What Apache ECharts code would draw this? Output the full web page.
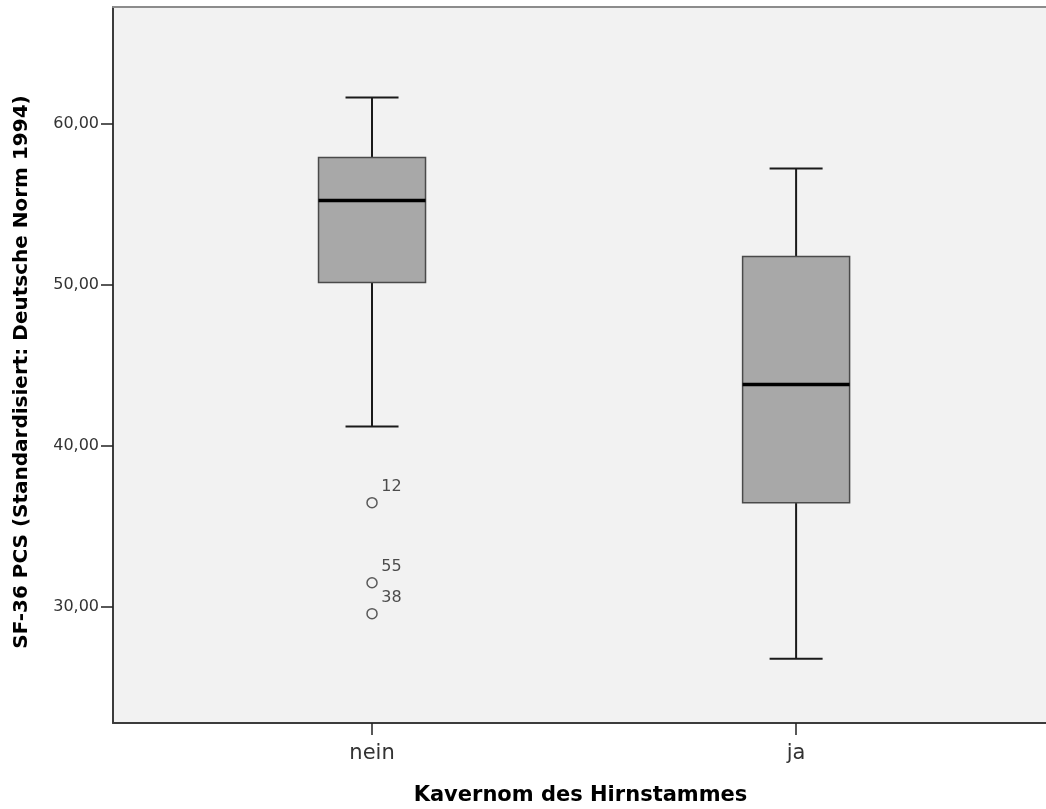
<!DOCTYPE html>
<html>
<head>
<meta charset="utf-8">
<script src="https://cdn.jsdelivr.net/npm/echarts@6/dist/echarts.min.js"></script>
<style>html,body{margin:0;padding:0;background:#fff;}#c{width:1046px;height:809px;}</style>
</head>
<body>
<div id="c"></div>
<script>
// Data
const categories = ['nein', 'ja'];
const whiskerLow = [41.18, 26.77];
const q1 = [50.12, 36.46];
const median = [55.22, 43.79];
const q3 = [57.89, 51.74];
const whiskerHigh = [61.61, 57.20];
const outlierCategory = [0, 0, 0];
const outlierValues = [36.46, 31.49, 29.57];
const outlierIds = ['12', '55', '38'];
const yTicks = [30, 40, 50, 60];

const boxData = categories.map((c, i) => [i, whiskerLow[i], q1[i], median[i], q3[i], whiskerHigh[i]]);
const outlierData = outlierValues.map((v, i) => [outlierCategory[i], v, outlierIds[i]]);

const FONT = 'DejaVu Sans';
const xMin = -0.6108, xMax = 1.594;

const chart = echarts.init(document.getElementById('c'), null, {renderer: 'canvas'});
chart.setOption({
  animation: false,
  backgroundColor: '#ffffff',
  grid: {left: 113, right: -2, top: 7, bottom: 86, show: true, backgroundColor: '#f2f2f2', borderWidth: 0,
    outerBoundsMode: 'none', containLabel: false},
  xAxis: [{
    type: 'value', min: xMin, max: xMax, position: 'bottom',
    name: 'Kavernom des Hirnstammes', nameLocation: 'middle', nameGap: 62,
    nameTextStyle: {fontFamily: FONT, fontSize: 21, fontWeight: 'bold', color: '#000', verticalAlign: 'top'},
    axisLine: {show: true, onZero: false, lineStyle: {color: '#3c3c3c', width: 2}},
    axisTick: {show: true, length: 12, customValues: [0, 1], lineStyle: {color: '#222', width: 1.5}},
    axisLabel: {show: true, customValues: [0, 1], margin: 20, fontFamily: FONT, fontSize: 21, color: '#333',
      formatter: v => categories[Math.round(v)] || ''},
    splitLine: {show: false}
  }, {
    type: 'value', min: xMin, max: xMax, position: 'top',
    axisLine: {show: true, onZero: false, lineStyle: {color: '#8c8c8c', width: 2}},
    axisTick: {show: false}, axisLabel: {show: false}, splitLine: {show: false}
  }],
  yAxis: {
    type: 'value', min: 22.78, max: 67.23, position: 'left',
    name: 'SF-36 PCS (Standardisiert: Deutsche Norm 1994)', nameLocation: 'middle', nameGap: 81,
    nameTextStyle: {fontFamily: FONT, fontSize: 20, fontWeight: 'bold', color: '#000', padding: [0, 14, 0, 0]},
    axisLine: {show: true, onZero: false, lineStyle: {color: '#3c3c3c', width: 2}},
    axisTick: {show: true, length: 12, customValues: yTicks, lineStyle: {color: '#222', width: 1.5}},
    axisLabel: {show: true, customValues: yTicks, margin: 14, fontFamily: FONT, fontSize: 16, color: '#333',
      formatter: v => v.toFixed(2).replace('.', ',')},
    splitLine: {show: false}
  },
  series: [{
    type: 'custom',
    data: boxData,
    renderItem: function (params, api) {
      const x = api.value(0);
      const lo = api.coord([x, api.value(1)]);
      const b1 = api.coord([x, api.value(2)]);
      const md = api.coord([x, api.value(3)]);
      const b3 = api.coord([x, api.value(4)]);
      const hi = api.coord([x, api.value(5)]);
      const cx = lo[0], hw = 53.5, cw = 26.5;
      const ws = {stroke: '#1a1a1a', lineWidth: 2};
      return {type: 'group', children: [
        {type: 'line', shape: {x1: cx, y1: hi[1], x2: cx, y2: b3[1]}, style: ws},
        {type: 'line', shape: {x1: cx, y1: b1[1], x2: cx, y2: lo[1]}, style: ws},
        {type: 'line', shape: {x1: cx - cw, y1: hi[1], x2: cx + cw, y2: hi[1]}, style: ws},
        {type: 'line', shape: {x1: cx - cw, y1: lo[1], x2: cx + cw, y2: lo[1]}, style: ws},
        {type: 'rect', shape: {x: cx - hw, y: b3[1], width: 2 * hw, height: b1[1] - b3[1]},
          style: {fill: '#a8a8a8', stroke: '#4a4a4a', lineWidth: 1.5}},
        {type: 'line', shape: {x1: cx - hw, y1: md[1], x2: cx + hw, y2: md[1]}, style: {stroke: '#000', lineWidth: 3.5}}
      ]};
    }
  }, {
    type: 'scatter',
    data: outlierData,
    symbol: 'circle', symbolSize: 10,
    itemStyle: {color: 'rgba(0,0,0,0)', borderColor: '#333', borderWidth: 1.5},
    label: {show: true, position: [15, -18], formatter: p => p.data[2], fontFamily: FONT, fontSize: 16, color: '#222'}
  }]
});
</script>
</body>
</html>
